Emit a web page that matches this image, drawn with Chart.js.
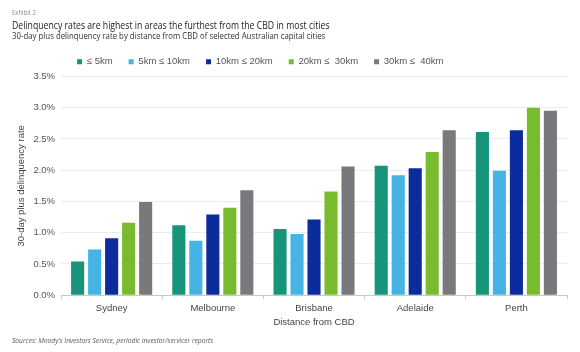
<!DOCTYPE html>
<html>
<head>
<meta charset="utf-8">
<script src="https://cdn.jsdelivr.net/npm/chart.js@4"></script>
<style>
  body { margin: 0; background: #fff; }
  #wrap { position: relative; width: 580px; height: 352px; }
  #c { position: absolute; left: 0; top: 0; }
  .hd { position: absolute; left: 12px; font-family: "Open Sans", sans-serif; white-space: nowrap; transform-origin: left top; }
  #exh { top: 8px; font-size: 7px; color: #8a8a8a; transform: scaleX(0.85); }
  #ttl { top: 17px; font-size: 11px; color: #222; transform: scaleX(0.79); }
  #sub { top: 29px; font-size: 9px; color: #333; transform: scaleX(0.87); }
  #src { top: 335px; font-size: 7.5px; color: #555; font-style: italic; transform: scaleX(0.89); }
</style>
</head>
<body>
<div id="wrap">
  <canvas id="c" width="580" height="352"></canvas>
  <div class="hd" id="exh">Exhibit 2</div>
  <div class="hd" id="ttl">Delinquency rates are highest in areas the furthest from the CBD in most cities</div>
  <div class="hd" id="sub">30-day plus delinquency rate by distance from CBD of selected Australian capital cities</div>
  <div class="hd" id="src">Sources: Moody's Investors Service, periodic investor/servicer reports</div>
</div>
<script>
const cities = ["Sydney", "Melbourne", "Brisbane", "Adelaide", "Perth"];
const bandNames = ["≤ 5km", "5km ≤ 10km", "10km ≤ 20km", "20km ≤  30km", "30km ≤  40km"];
const upTo5 = [0.54, 1.12, 1.06, 2.07, 2.61];
const from5to10 = [0.73, 0.87, 0.98, 1.92, 1.99];
const from10to20 = [0.91, 1.29, 1.21, 2.03, 2.64];
const from20to30 = [1.16, 1.40, 1.66, 2.29, 3.00];
const from30to40 = [1.49, 1.68, 2.06, 2.64, 2.95];
const bandColors = ["#16957a", "#45b4e5", "#0b2c9b", "#79bb2f", "#78797c"];

const seriesValues = [upTo5, from5to10, from10to20, from20to30, from30to40];
const chartFont = "'Liberation Sans', Arial, sans-serif";

const ctx = document.getElementById("c").getContext("2d");
const chart = new Chart(ctx, {
  type: "bar",
  data: {
    labels: cities,
    datasets: seriesValues.map(function (vals, i) {
      return {
        label: bandNames[i],
        data: vals,
        backgroundColor: bandColors[i],
        borderWidth: 0,
        categoryPercentage: 0.84,
        barPercentage: 0.77,
      };
    }),
  },
  options: {
    responsive: false,
    animation: false,
    layout: { padding: { top: 41, left: 16, right: 13, bottom: 24 } },
    plugins: {
      legend: {
        position: "top",
        align: "start",
        fullSize: false,
        labels: {
          boxWidth: 5,
          boxHeight: 5,
          padding: 16,
          color: "#555",
          font: { family: chartFont, size: 9.5 },
        },
      },
      tooltip: { enabled: false },
    },
    scales: {
      x: {
        grid: {
          display: true,
          drawOnChartArea: false,
          drawTicks: true,
          tickLength: 4,
          color: "#c8c8c8",
        },
        border: { display: true, color: "#c8c8c8" },
        ticks: { color: "#444", font: { family: chartFont, size: 9.5 }, padding: 3 },
        title: {
          display: true,
          text: "Distance from CBD",
          color: "#444",
          font: { family: chartFont, size: 9.5 },
          padding: { top: 0, bottom: 0 },
        },
      },
      y: {
        min: 0,
        max: 3.5,
        grid: { color: "#ececec", drawTicks: false },
        border: { display: false },
        ticks: {
          stepSize: 0.5,
          padding: 6,
          color: "#555",
          font: { family: chartFont, size: 9.5 },
          callback: function (v) { return v.toFixed(1) + "%"; },
        },
        title: {
          display: true,
          text: "30-day plus delinquency rate",
          color: "#444",
          font: { family: chartFont, size: 9.5 },
          padding: { top: 0, bottom: 0 },
        },
      },
    },
  },
});
</script>
</body>
</html>
